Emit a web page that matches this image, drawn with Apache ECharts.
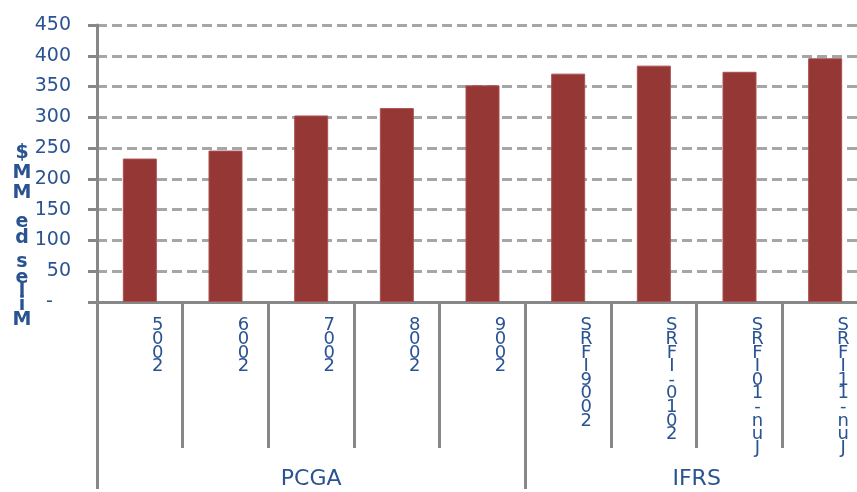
<!DOCTYPE html>
<html>
<head>
<meta charset="utf-8">
<script src="https://cdn.jsdelivr.net/npm/echarts@6/dist/echarts.min.js"></script>
<style>html,body{margin:0;padding:0;background:#fff;overflow:hidden}#c{width:868px;height:492px}</style>
</head>
<body>
<div id="c"></div>
<script>
const categories = ['5002','6002','7002','8002','9002','SRFI9002','SRFI-0102','SRFI01-nuJ','SRFI11-nuJ'];
const values = [233, 246, 303, 315, 352, 371, 384, 374, 396];
const groupNames = ['PCGA', 'IFRS'];
const groupSizes = [5, 4];
const yMin = 0, yMax = 450, yStep = 50;
const yTitleChars = ['$','M','M',' ','e','d',' ','s','e','l','i','M'];

const FONT = 'DejaVu Sans';
const BLUE = '#2a5392';
const AXIS = '#878787';

// group boundaries and centres from group sizes
const groupEdges = [0];
groupSizes.forEach(s => groupEdges.push(groupEdges[groupEdges.length - 1] + s));
const groupCenters = groupSizes.map((s, i) => groupEdges[i] + s / 2);

// y title rich text (stacked characters)
const titleLineH = [20,20,20,11,16,16,8,16,16,13,13,16];
const rich = {};
const titleText = yTitleChars.map((ch, i) => {
  rich['l' + i] = { fontFamily: FONT, fontWeight: 'bold', fontSize: 19, lineHeight: titleLineH[i], fill: BLUE, align: 'center' };
  return '{l' + i + '|' + (ch === ' ' ? '\u00a0' : ch) + '}';
}).join('\n');

const chart = echarts.init(document.getElementById('c'), null, { renderer: 'canvas' });
chart.setOption({
  animation: false,
  backgroundColor: '#fff',
  grid: { left: 97, top: 25, right: 0, height: 280, containLabel: false },
  graphic: [{
    type: 'text', x: 22, y: 143,
    style: { text: titleText, rich: rich, align: 'center', verticalAlign: 'top', fill: BLUE, font: 'bold 19px ' + FONT }
  }],
  xAxis: [{
    type: 'category',
    data: categories,
    axisLine: { show: true, lineStyle: { color: AXIS, width: 3 } },
    axisTick: { show: true, interval: 0, length: 146, lineStyle: { color: AXIS, width: 3 } },
    axisLabel: {
      interval: 0, color: BLUE, fontFamily: FONT, fontSize: 18, lineHeight: 13.6,
      margin: 17, align: 'center', padding: [0, 0, 0, 36],
      formatter: v => v.split('').join('\n')
    },
    splitLine: { show: false }
  }, {
    type: 'value',
    min: 0, max: categories.length,
    position: 'bottom', offset: 146,
    axisLine: { show: false },
    splitLine: { show: false },
    axisTick: { show: true, customValues: groupEdges, length: 41, lineStyle: { color: AXIS, width: 3 } },
    axisLabel: {
      customValues: groupCenters, color: BLUE, fontFamily: FONT, fontSize: 22, lineHeight: 26, margin: 18,
      formatter: v => { const i = groupCenters.indexOf(v); return i >= 0 ? groupNames[i] : ''; }
    }
  }],
  yAxis: {
    type: 'value', min: yMin, max: yMax, interval: yStep,
    axisLine: { show: true, lineStyle: { color: AXIS, width: 3 } },
    axisTick: { show: true, length: 9, lineStyle: { color: AXIS, width: 3 } },
    axisLabel: {
      color: BLUE, fontFamily: FONT, fontSize: 19, margin: 26,
      formatter: v => v === 0 ? '-\u00a0\u00a0\u00a0' : String(v)
    },
    splitLine: { show: true, lineStyle: { color: '#a6a6a6', width: 3, type: [10, 5] } }
  },
  series: [{
    type: 'bar',
    xAxisIndex: 0,
    data: values,
    barWidth: 34,
    itemStyle: { color: '#953735', borderColor: '#a9514f', borderWidth: 1 }
  }]
});
</script>
</body>
</html>
